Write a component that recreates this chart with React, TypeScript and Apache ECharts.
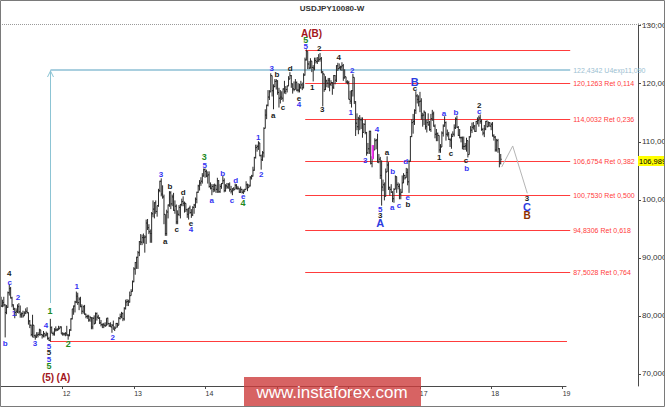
import React, { useEffect, useRef } from "react";
import * as echarts from "echarts";

// Weekly USDJPY bars, first bar = week of 13 Feb 2011 (fractional-year time scale)
const FIRST_WEEK = 2011.118;
const WEEK_SPAN = 7 / 365.25;
const firstOpen = 83.4;

const weeklyClose = [
  // 2011
  83.1, 81.7, 82.3, 81.9, 80.6, 81.5, 84.0, 84.7, 83.1, 81.9, 81.2, 80.6, 80.8, 81.6, 80.7, 80.2, 80.4, 80.0, 80.5, 80.8,
  80.6, 79.1, 78.4, 76.8, 78.4, 76.6, 76.4, 76.7, 76.8, 77.6, 76.8, 76.6, 77.0, 76.7, 76.9, 76.1, 75.8, 78.0, 77.0, 76.9,
  77.6, 77.6, 77.6, 77.8, 78.1, 76.9,
  // 2012
  76.9, 76.9, 77.0, 76.7, 76.6, 77.6, 79.5, 81.2, 81.7, 82.4, 83.4, 82.3, 82.9, 81.6, 80.8, 81.6, 80.3, 79.9, 79.9, 79.3,
  79.7, 78.1, 79.6, 78.7, 80.4, 79.8, 79.6, 78.8, 78.5, 78.5, 78.4, 78.3, 79.6, 78.7, 78.3, 78.1, 78.4, 77.7, 77.9, 78.7,
  78.4, 79.6, 79.9, 80.4, 79.5, 81.3, 82.4, 82.5, 82.4, 83.5, 84.2, 85.9, 88.1,
  // 2013
  89.2, 90.1, 90.9, 92.8, 92.7, 93.5, 93.5, 93.6, 96.0, 95.2, 94.5, 94.2, 97.6, 98.4, 99.5, 98.0, 99.0, 101.6, 103.2, 101.0,
  100.5, 97.5, 94.2, 97.9, 99.1, 101.2, 99.3, 100.5, 98.2, 98.9, 96.2, 97.5, 98.7, 99.2, 99.7, 99.4, 99.4, 98.3, 97.5, 98.6,
  97.8, 97.4, 98.7, 99.1, 100.1, 101.3, 102.4, 102.9, 103.2, 104.1, 105.2, 104.9,
  // 2014
  104.1, 104.3, 102.3, 102.0, 102.3, 101.8, 102.5, 101.8, 103.3, 101.4, 102.3, 102.8, 103.3, 101.6, 102.4, 102.2, 102.6, 101.8, 101.5, 101.9,
  101.8, 102.5, 102.0, 102.0, 101.3, 101.8, 101.3, 101.4, 101.8, 102.6, 102.1, 102.4, 103.8, 104.1, 105.1, 107.3, 109.0, 109.2, 109.8, 107.6,
  106.9, 108.1, 112.3, 114.6, 116.3, 117.7, 118.6, 121.4, 118.8, 119.5, 120.4, 120.5,
  // 2015
  118.5, 117.5, 117.7, 117.5, 119.1, 118.7, 119.0, 119.6, 120.8, 121.4, 120.0, 119.1, 119.0, 120.2, 118.9, 118.9, 119.4, 119.8, 119.3, 121.5,
  124.1, 125.6, 123.4, 122.7, 123.9, 122.8, 122.7, 124.0, 123.8, 123.9, 124.2, 124.3, 122.0, 121.7, 119.0, 120.5, 120.1, 120.6, 119.9, 120.2,
  119.4, 121.4, 120.6, 123.1, 122.6, 122.8, 122.9, 123.1, 121.0, 121.2, 120.3, 120.2,
  // 2016
  117.3, 117.0, 118.8, 121.1, 116.9, 113.2, 112.6, 114.0, 113.8, 113.8, 111.6, 113.0, 111.6, 108.1, 108.8, 111.8, 106.3, 107.1, 108.6, 110.2,
  110.3, 106.5, 107.0, 104.2, 102.2, 102.6, 100.6, 104.8, 106.0, 102.1, 101.8, 101.3, 100.2, 101.8, 104.0, 102.6, 102.3, 101.0, 101.3, 102.9,
  104.2, 103.8, 104.7, 103.1, 106.6, 110.9, 113.3, 113.5, 115.4, 117.9, 117.3, 116.9,
  // 2017
  117.0, 114.5, 114.6, 115.1, 112.6, 113.3, 112.9, 112.1, 114.0, 114.8, 112.7, 111.3, 111.4, 111.1, 108.6, 109.1, 111.5, 112.7, 113.3, 111.3,
  111.3, 110.4, 110.3, 110.9, 111.3, 112.4, 113.9, 112.5, 111.1, 110.7, 110.7, 109.2, 109.2, 109.3, 110.2, 107.8, 110.8, 112.0, 112.5, 112.7,
  111.8, 113.5, 113.7, 114.1, 113.5, 112.1, 111.5, 112.2, 113.5, 112.6, 113.3, 112.7,
  // 2018
  113.0, 111.0, 110.8, 108.6, 110.2, 108.8, 106.3, 106.989,
];

const weeklyHigh = [
  // 2011
  84.0, 83.3, 82.8, 83.3, 82.0, 81.9, 84.2, 85.5, 85.0, 83.3, 82.0, 81.4, 81.3, 82.0, 82.2, 81.8, 80.6, 80.9, 80.8, 81.3,
  81.5, 80.6, 79.3, 78.5, 80.2, 78.3, 76.8, 77.2, 77.2, 77.8, 77.5, 76.9, 77.4, 77.0, 77.3, 77.1, 76.4, 79.5, 78.2, 77.3,
  77.9, 78.2, 77.9, 78.3, 78.2, 78.2,
  // 2012
  77.2, 77.1, 77.2, 78.3, 76.9, 77.7, 79.6, 81.2, 81.8, 82.6, 84.2, 84.0, 83.2, 83.3, 82.0, 81.8, 81.9, 80.4, 80.2, 80.2,
  80.0, 79.8, 79.8, 80.1, 80.6, 80.6, 80.2, 79.8, 79.3, 78.7, 78.8, 78.9, 79.6, 79.7, 78.8, 78.9, 78.6, 79.2, 78.2, 78.8,
  78.8, 79.8, 80.4, 80.7, 80.6, 81.5, 82.8, 82.9, 82.8, 84.2, 84.6, 86.1, 88.4,
  // 2013
  89.3, 90.2, 91.2, 92.9, 94.1, 94.0, 94.2, 93.9, 96.6, 96.7, 95.8, 94.9, 97.9, 99.9, 99.6, 99.9, 99.0, 101.9, 103.3, 103.7,
  102.5, 100.9, 97.2, 98.3, 99.2, 101.5, 101.5, 100.9, 101.2, 99.9, 99.2, 98.2, 99.1, 99.3, 100.2, 100.6, 99.7, 99.3, 98.5, 98.6,
  99.0, 98.4, 98.9, 99.3, 100.4, 101.4, 102.6, 103.4, 103.9, 104.6, 105.4, 105.4,
  // 2014
  105.2, 104.9, 104.9, 103.0, 102.7, 102.7, 102.8, 102.6, 103.8, 103.4, 102.7, 102.9, 104.1, 103.7, 102.7, 102.9, 102.9, 103.0, 102.4, 102.0,
  102.2, 102.8, 102.7, 102.4, 102.0, 102.3, 101.9, 101.8, 101.9, 103.2, 102.8, 102.7, 104.1, 104.3, 105.7, 107.4, 109.5, 109.5, 110.1, 109.0,
  107.8, 108.4, 112.5, 115.6, 116.4, 118.9, 118.9, 121.8, 121.4, 119.9, 120.8, 120.8,
  // 2015
  120.6, 119.3, 118.9, 118.7, 119.2, 120.5, 119.6, 119.7, 121.3, 122.0, 121.5, 120.0, 120.4, 120.8, 120.4, 120.1, 120.0, 120.5, 120.2, 121.8,
  124.5, 125.9, 125.0, 123.9, 124.4, 123.8, 123.2, 124.5, 124.5, 124.6, 125.1, 125.3, 124.6, 122.2, 121.7, 121.3, 120.7, 121.0, 121.0, 120.6,
  120.3, 121.5, 121.5, 123.2, 123.6, 123.5, 123.1, 123.7, 123.4, 122.5, 121.2, 120.6,
  // 2016
  120.5, 118.8, 118.9, 121.7, 121.0, 117.0, 114.9, 114.3, 114.6, 114.2, 114.2, 113.2, 113.8, 111.7, 109.8, 111.9, 111.9, 107.5, 109.4, 110.6,
  110.5, 111.4, 107.9, 107.4, 106.8, 103.5, 103.0, 105.4, 107.5, 106.5, 102.3, 102.7, 101.5, 102.0, 104.2, 104.0, 103.0, 102.8, 101.9, 104.2,
  104.6, 104.3, 105.5, 105.4, 106.9, 111.0, 113.9, 114.8, 115.6, 118.7, 118.2, 118.0,
  // 2017
  118.6, 117.5, 115.0, 115.4, 115.0, 113.8, 114.9, 113.6, 114.8, 115.5, 115.2, 113.0, 112.2, 111.6, 111.1, 109.6, 111.8, 113.0, 114.4, 113.5,
  112.1, 111.7, 110.6, 111.4, 111.8, 113.0, 114.2, 114.5, 112.7, 112.2, 110.9, 110.9, 110.9, 109.8, 110.7, 110.0, 111.0, 112.7, 113.3, 113.4,
  112.9, 113.6, 114.2, 114.5, 114.7, 113.9, 112.4, 112.9, 113.6, 113.7, 113.5, 113.4,
  // 2018
  113.3, 113.4, 111.3, 111.0, 110.5, 110.5, 108.9, 107.9,
];

const weeklyLow = [
  // 2011
  82.9, 81.6, 81.5, 81.6, 76.3, 80.3, 81.4, 83.5, 83.0, 81.5, 81.0, 79.6, 80.0, 80.5, 80.4, 79.7, 79.7, 79.7, 80.0, 80.3,
  80.4, 78.5, 77.9, 76.5, 76.3, 76.2, 75.9, 76.2, 76.3, 76.6, 76.6, 76.1, 76.3, 76.3, 76.5, 75.9, 75.7, 75.6, 77.0, 76.6,
  76.6, 77.3, 77.4, 77.6, 77.8, 76.9,
  // 2012
  76.6, 76.6, 76.5, 76.6, 75.9, 76.5, 77.4, 79.4, 80.2, 80.6, 82.2, 81.9, 81.0, 81.5, 80.3, 80.4, 80.2, 79.6, 79.5, 79.0,
  79.0, 77.7, 77.7, 78.5, 78.7, 79.2, 79.5, 78.6, 78.2, 77.9, 77.9, 78.1, 78.3, 78.4, 78.1, 78.1, 77.1, 77.7, 77.4, 77.9,
  78.0, 78.4, 79.4, 79.6, 79.1, 79.2, 81.1, 81.7, 81.7, 82.3, 83.6, 84.3, 85.8,
  // 2013
  87.1, 88.1, 88.1, 90.3, 92.2, 92.2, 92.5, 90.9, 92.4, 94.8, 94.1, 92.6, 92.6, 97.0, 96.8, 97.6, 97.1, 98.8, 101.3, 100.6,
  100.2, 95.8, 93.8, 93.8, 96.8, 98.8, 98.4, 98.9, 98.1, 97.6, 95.8, 95.8, 97.2, 96.8, 98.9, 98.9, 97.8, 97.9, 96.9, 96.6,
  97.6, 96.9, 97.2, 97.6, 98.6, 99.4, 101.2, 101.6, 102.4, 102.8, 104.0, 103.8,
  // 2014
  103.9, 102.8, 102.1, 101.8, 100.8, 101.3, 101.4, 101.2, 101.2, 101.2, 101.2, 101.9, 102.8, 101.3, 101.4, 101.9, 101.9, 101.4, 101.1, 100.8,
  101.5, 101.8, 101.8, 101.7, 101.2, 101.2, 101.1, 101.0, 101.4, 101.8, 101.5, 102.1, 102.3, 103.5, 104.0, 105.0, 107.1, 108.3, 108.6, 107.5,
  105.2, 106.7, 107.3, 112.3, 113.9, 116.1, 117.2, 118.6, 117.8, 115.6, 119.4, 119.0,
  // 2015
  118.1, 115.9, 116.6, 117.2, 116.9, 118.3, 118.2, 118.5, 119.6, 120.8, 119.3, 118.3, 118.7, 119.6, 118.7, 118.5, 118.5, 119.1, 118.9, 119.2,
  121.4, 124.0, 122.5, 122.5, 122.6, 122.0, 120.4, 122.3, 123.5, 123.4, 123.8, 123.8, 121.8, 116.1, 118.6, 118.9, 119.4, 119.3, 118.7, 119.6,
  118.1, 119.1, 119.9, 120.3, 122.2, 122.5, 122.3, 122.2, 120.5, 120.9, 120.1, 119.9,
  // 2016
  117.3, 116.5, 115.9, 117.8, 116.5, 111.0, 112.0, 111.3, 112.0, 112.2, 110.7, 111.7, 111.3, 107.6, 107.9, 107.9, 106.1, 105.6, 107.9, 108.8,
  108.7, 106.4, 106.3, 103.6, 99.0, 101.5, 99.9, 100.7, 104.9, 101.7, 100.7, 101.2, 99.6, 99.5, 101.8, 101.2, 101.8, 100.1, 100.1, 101.2,
  103.2, 103.5, 103.8, 102.5, 101.2, 106.6, 110.8, 111.4, 112.9, 114.8, 116.6, 116.1,
  // 2017
  115.1, 113.8, 112.6, 112.9, 112.1, 111.6, 112.8, 111.9, 111.7, 113.6, 112.6, 110.6, 110.1, 110.1, 108.1, 108.1, 109.5, 110.9, 112.6, 110.2,
  110.9, 110.3, 109.1, 108.8, 110.9, 110.9, 112.2, 112.4, 111.0, 110.6, 109.9, 108.7, 108.6, 108.6, 108.3, 107.3, 107.8, 110.9, 111.5, 112.1,
  111.7, 111.7, 113.0, 112.6, 113.1, 111.9, 111.1, 110.8, 112.0, 112.5, 112.6, 112.6,
  // 2018
  112.0, 110.9, 110.2, 108.3, 108.3, 108.1, 105.6, 106.1,
];

const lastPrice = 106.989;

// Axis ticks
const yearTicks = [2012, 2013, 2014, 2015, 2016, 2017, 2018, 2019];
const priceTicks = [70, 80, 90, 100, 110, 120, 130];

// Fibonacci retracement of the (A)-(B) swing
const fibPrices = [125.8479, 120.1263, 114.0032, 106.6754, 100.753, 94.8306, 87.5028, 75.6581];
const fibRatios = ["", "0,114", "0,236", "0,382", "0,500", "0,618", "0,764", ""];
const fibFromYear = [2015.395, 2015.395, 2015.395, 2015.395, 2015.395, 2015.395, 2015.395, 2011.822];
const fibToYear = [2019.105, 2019.105, 2019.105, 2019.105, 2019.105, 2019.105, 2019.105, 2019.06];

// Fibonacci expansion marker
const expansionYear = 2011.822;
const expansionBase = 82.23;
const expansionLevel = 122.4342;
const expansionEndYear = 2019.105;
const expansionTag = "122,4342 U4exp11,090";

// Projected path of the next swing
const forecastPath = [
  [2018.146, 105.66],
  [2018.3, 109.28],
  [2018.504, 101.13],
];

// Highlighted bar
const markedBar = [2016.34, 107.0, 109.45];

// Elliott wave counts: text, year, price, tone
const waveLabels: [string, number, number, string][] = [
  ["4", 2011.252, 87.23, "k"], ["c", 2011.258, 85.68, "b"], ["2", 2011.374, 83.18, "b"], ["1", 2011.318, 80.42, "b"],
  ["b", 2011.196, 75.25, "b"], ["3", 2011.612, 75.25, "b"], ["4", 2011.766, 78.35, "b"], ["1", 2011.822, 80.77, "g"],
  ["5", 2011.808, 74.74, "b"], ["5", 2011.808, 73.62, "k"], ["5", 2011.808, 72.5, "b"], ["5", 2011.808, 71.29, "g"],
  ["(5)", 2011.794, 69.48, "r"], ["(A)", 2012.011, 69.48, "r"], ["2", 2012.078, 75.17, "g"], ["1", 2012.196, 84.99, "b"],
  ["2", 2012.7, 76.29, "b"], ["3", 2013.376, 104.45, "b"], ["b", 2013.502, 102.3, "k"], ["d", 2013.688, 101.3, "k"],
  ["a", 2013.436, 92.83, "k"], ["c", 2013.596, 94.81, "k"], ["e", 2013.796, 95.96, "k"], ["4", 2013.796, 94.89, "b"],
  ["3", 2013.982, 107.33, "g"], ["5", 2013.988, 106.0, "b"], ["a", 2014.086, 99.85, "b"], ["b", 2014.24, 104.5, "b"],
  ["d", 2014.422, 103.3, "b"], ["c", 2014.37, 99.85, "b"], ["e", 2014.528, 100.49, "b"], ["4", 2014.524, 99.51, "g"],
  ["1", 2014.738, 110.78, "b"], ["2", 2014.78, 104.4, "b"], ["3", 2014.926, 122.54, "b"], ["b", 2015.0, 121.63, "k"],
  ["d", 2015.186, 122.66, "k"], ["a", 2014.948, 114.5, "k"], ["c", 2015.084, 115.82, "k"], ["e", 2015.308, 117.42, "k"],
  ["4", 2015.308, 116.46, "b"], ["A(B)", 2015.483, 128.69, "r"], ["5", 2015.402, 127.54, "g"], ["5", 2015.402, 126.38, "b"],
  ["2", 2015.592, 126.04, "k"], ["4", 2015.864, 124.49, "k"], ["1", 2015.494, 119.39, "k"], ["3", 2015.634, 115.48, "k"],
  ["2", 2016.054, 122.2, "b"], ["1", 2016.032, 115.01, "b"], ["3", 2016.236, 106.86, "b"], ["4", 2016.4, 112.03, "b"],
  ["5", 2016.446, 98.25, "b"], ["3", 2016.446, 97.27, "k"], ["A", 2016.446, 96.01, "B"], ["a", 2016.54, 108.19, "k"],
  ["a", 2016.614, 98.72, "b"], ["b", 2016.62, 104.92, "b"], ["c", 2016.708, 99.11, "b"], ["d", 2016.802, 106.52, "b"],
  ["e", 2016.83, 100.44, "b"], ["b", 2016.834, 99.16, "k"], ["B", 2016.928, 120.25, "B"], ["c", 2016.932, 119.1, "k"],
  ["1", 2017.272, 107.33, "k"], ["a", 2017.338, 114.91, "b"], ["c", 2017.436, 108.02, "k"], ["b", 2017.506, 115.01, "b"],
  ["c", 2017.646, 106.74, "k"], ["b", 2017.656, 105.44, "b"], ["2", 2017.832, 116.29, "k"], ["c", 2017.832, 115.19, "b"],
  ["3", 2018.5, 100.23, "k"], ["C", 2018.5, 98.77, "B"], ["B", 2018.5, 97.22, "o"],
];

const FONT = '"Liberation Sans", Arial, sans-serif';
const toneColor: Record<string, string> = {
  k: "#1c1c1c",
  b: "#3434f2",
  g: "#1f8a1f",
  r: "#a3161b",
  B: "#2c3ce0",
  o: "#8a3000",
};
const toneFont: Record<string, string> = {
  k: `bold 8px ${FONT}`,
  b: `bold 8px ${FONT}`,
  g: `bold 9px ${FONT}`,
  r: `bold 10px ${FONT}`,
  B: `bold 11px ${FONT}`,
  o: `bold 10px ${FONT}`,
};

const FIB_RED = "#ff3c3c";
const EXP_BLUE = "#a9cfdf";
const BAR_INK = "#2a2a2a";

const X_MIN = 2011.1222;
const X_MAX = 2020.054;
const PX_PER_YEAR = 638 / (X_MAX - X_MIN);
const Y_MIN = 67.93;
const Y_MAX = 130.29;

const crisp = (v: number) => Math.round(v) + 0.5;

function buildBars() {
  const rows: number[][] = [];
  let open = firstOpen;
  for (let i = 0; i < weeklyClose.length; i++) {
    const c = weeklyClose[i];
    const h = Math.max(weeklyHigh[i], open, c);
    const l = Math.min(weeklyLow[i], open, c);
    rows.push([FIRST_WEEK + i * WEEK_SPAN, open, h, l, c]);
    open = c;
  }
  return rows;
}

function buildOption(): any {
  const bars = buildBars();
  const lastYear = bars[bars.length - 1][0];

  return {
    animation: false,
    backgroundColor: "#ffffff",
    grid: [
      { left: 0, top: 24, width: 638, height: 362, outerBoundsMode: "none" },
      { left: 0, top: 24, width: 566, height: 362, outerBoundsMode: "none" },
    ],
    xAxis: [
      { gridIndex: 0, type: "value", min: X_MIN, max: X_MAX, show: false },
      {
        gridIndex: 1,
        type: "value",
        min: X_MIN,
        max: X_MIN + 566 / PX_PER_YEAR,
        axisLine: { show: true, lineStyle: { color: "#4a4a4a", width: 1 } },
        axisTick: { show: true, length: 3, customValues: yearTicks, lineStyle: { color: "#4a4a4a" } },
        axisLabel: {
          customValues: yearTicks,
          formatter: (v: number) => String(Math.round(v)).slice(2),
          align: "left",
          fontSize: 7,
          fontFamily: FONT,
          color: "#333",
          margin: 4,
        },
        splitLine: { show: false },
      },
    ],
    yAxis: [
      {
        gridIndex: 0,
        type: "value",
        position: "right",
        min: Y_MIN,
        max: Y_MAX,
        axisLine: { show: true, lineStyle: { color: "#4a4a4a", width: 1 } },
        axisTick: { show: true, length: 3, customValues: priceTicks, lineStyle: { color: "#4a4a4a" } },
        axisLabel: {
          customValues: priceTicks,
          formatter: (v: number) => v.toFixed(4).replace(".", ","),
          fontSize: 8,
          fontFamily: FONT,
          color: "#333",
          margin: 4,
        },
        splitLine: { show: false },
      },
      { gridIndex: 1, type: "value", min: Y_MIN, max: Y_MAX, show: false },
    ],
    series: [
      {
        type: "custom",
        name: "fib",
        xAxisIndex: 0,
        yAxisIndex: 0,
        z: 2,
        silent: true,
        data: fibPrices.map((p, i) => [fibFromYear[i], fibToYear[i], p, i]),
        renderItem: (params: any, api: any) => {
          const i = api.value(3);
          const a = api.coord([api.value(0), api.value(2)]);
          const b = api.coord([api.value(1), api.value(2)]);
          const y = crisp(a[1]);
          const children: any[] = [
            { type: "line", shape: { x1: a[0], y1: y, x2: b[0], y2: y }, style: { stroke: FIB_RED, lineWidth: 1 } },
          ];
          if (fibRatios[i]) {
            children.push({
              type: "text",
              x: b[0] + 3,
              y: y,
              style: {
                text: `${fibPrices[i].toFixed(4).replace(".", ",")} Ret ${fibRatios[i]}`,
                fill: FIB_RED,
                font: `7px ${FONT}`,
                align: "left",
                verticalAlign: "middle",
              },
            });
          }
          return { type: "group", children };
        },
      },
      {
        type: "custom",
        name: "expansion",
        xAxisIndex: 0,
        yAxisIndex: 0,
        z: 2,
        silent: true,
        data: [[expansionYear, expansionBase, expansionLevel, expansionEndYear]],
        renderItem: (params: any, api: any) => {
          const base = api.coord([api.value(0), api.value(1)]);
          const top = api.coord([api.value(0), api.value(2)]);
          const end = api.coord([api.value(3), api.value(2)]);
          const x = crisp(top[0]);
          const y = Math.round(top[1]);
          return {
            type: "group",
            children: [
              { type: "line", shape: { x1: x, y1: base[1], x2: x, y2: y }, style: { stroke: "#8cc4d4", lineWidth: 1 } },
              { type: "polyline", shape: { points: [[x - 3, y + 7], [x, y + 1], [x + 3, y + 7]] }, style: { stroke: "#8cc4d4", lineWidth: 1, fill: "none" } },
              { type: "line", shape: { x1: x, y1: y, x2: end[0], y2: y }, style: { stroke: EXP_BLUE, lineWidth: 2 } },
              {
                type: "text",
                x: end[0] + 3,
                y: y,
                style: { text: expansionTag, fill: "#9cc0d2", font: `7px ${FONT}`, align: "left", verticalAlign: "middle" },
              },
            ],
          };
        },
      },
      {
        type: "custom",
        name: "USDJPY",
        xAxisIndex: 0,
        yAxisIndex: 0,
        z: 3,
        silent: true,
        data: bars,
        renderItem: (params: any, api: any) => {
          const t = api.value(0);
          const hi = api.coord([t, api.value(2)]);
          const lo = api.coord([t, api.value(3)]);
          const op = api.coord([t, api.value(1)]);
          const cl = api.coord([t, api.value(4)]);
          const x = hi[0];
          const st = { stroke: BAR_INK, lineWidth: 1 };
          return {
            type: "group",
            children: [
              { type: "line", shape: { x1: x, y1: hi[1], x2: x, y2: lo[1] }, style: st },
              { type: "line", shape: { x1: x - 1, y1: op[1], x2: x, y2: op[1] }, style: st },
              { type: "line", shape: { x1: x, y1: cl[1], x2: x + 1, y2: cl[1] }, style: st },
            ],
          };
        },
      },
      {
        type: "custom",
        name: "marked",
        xAxisIndex: 0,
        yAxisIndex: 0,
        z: 4,
        silent: true,
        data: [markedBar],
        renderItem: (params: any, api: any) => {
          const a = api.coord([api.value(0), api.value(1)]);
          const b = api.coord([api.value(0), api.value(2)]);
          return { type: "line", shape: { x1: a[0], y1: a[1], x2: b[0], y2: b[1] }, style: { stroke: "#ff33ff", lineWidth: 2 } };
        },
      },
      {
        type: "line",
        name: "forecast",
        xAxisIndex: 0,
        yAxisIndex: 0,
        z: 4,
        silent: true,
        symbol: "none",
        data: forecastPath,
        lineStyle: { color: "#b4b4b4", width: 1 },
      },
      {
        type: "custom",
        name: "waves",
        xAxisIndex: 0,
        yAxisIndex: 0,
        z: 5,
        silent: true,
        data: waveLabels.map((w, i) => [w[1], w[2], i]),
        renderItem: (params: any, api: any) => {
          const w = waveLabels[api.value(2)];
          const p = api.coord([api.value(0), api.value(1)]);
          return {
            type: "text",
            x: p[0],
            y: p[1],
            style: { text: w[0], fill: toneColor[w[3]], font: toneFont[w[3]], align: "center", verticalAlign: "middle" },
          };
        },
      },
      {
        type: "custom",
        name: "price",
        xAxisIndex: 0,
        yAxisIndex: 0,
        z: 6,
        silent: true,
        data: [[lastYear, lastPrice]],
        renderItem: (params: any, api: any) => {
          const cs = params.coordSys;
          const p = api.coord([api.value(0), api.value(1)]);
          const x = cs.x + cs.width;
          const y = Math.round(p[1]);
          return {
            type: "group",
            children: [
              { type: "rect", shape: { x: x, y: y - 3, width: 30, height: 10 }, style: { fill: "#ffff00" } },
              {
                type: "text",
                x: x + 1,
                y: y + 2,
                style: { text: lastPrice.toFixed(3).replace(".", ","), fill: "#000", font: `7.5px ${FONT}`, align: "left", verticalAlign: "middle" },
              },
            ],
          };
        },
      },
      { type: "line", xAxisIndex: 1, yAxisIndex: 1, data: [], silent: true },
    ],
    graphic: [
      {
        type: "line",
        z: 50,
        silent: true,
        shape: { x1: 0, y1: 24.5, x2: 665, y2: 24.5 },
        style: { stroke: "#9a9a9a", lineWidth: 1, lineDash: [1, 1] },
      },
      {
        type: "text",
        z: 50,
        silent: true,
        x: 332,
        y: 8,
        style: { text: "USDJPY10080-W", fill: "#333", font: `bold 8px ${FONT}`, align: "center", verticalAlign: "middle" },
      },
      {
        type: "rect",
        z: 60,
        silent: true,
        shape: { x: 244, y: 377, width: 177, height: 30 },
        style: { fill: "rgba(205, 60, 60, 0.8)" },
      },
      {
        type: "text",
        z: 61,
        silent: true,
        x: 332,
        y: 392,
        style: { text: "www.instaforex.com", fill: "#ffffff", font: `17px ${FONT}`, align: "center", verticalAlign: "middle" },
      },
      {
        type: "rect",
        z: 70,
        silent: true,
        shape: { x: 0.5, y: 0.5, width: 664, height: 406 },
        style: { fill: "none", stroke: "#7a7a7a", lineWidth: 1 },
      },
    ],
  };
}

export default function App() {
  const ref = useRef<HTMLDivElement>(null);

  useEffect(() => {
    document.body.style.margin = "0";
    if (!ref.current) return;
    const chart = echarts.init(ref.current, undefined, { renderer: "svg" });
    chart.setOption(buildOption());
    return () => {
      chart.dispose();
    };
  }, []);

  return (
    <div
      ref={ref}
      style={{ position: "absolute", left: 0, top: 0, width: 665, height: 407, background: "#ffffff" }}
    />
  );
}
